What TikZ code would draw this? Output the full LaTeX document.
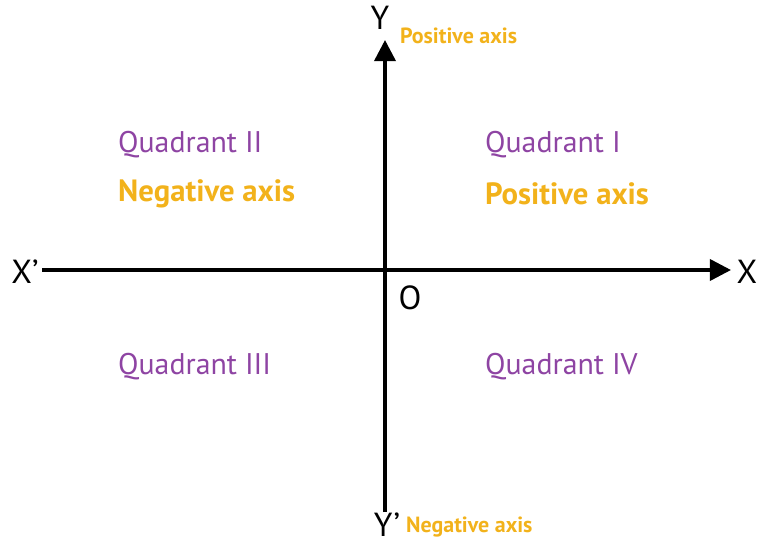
\documentclass[tikz,border=0pt]{standalone}
\usepackage{fontspec}
\setmainfont{PT Sans}
\usetikzlibrary{arrows.meta}
\definecolor{quadpurple}{HTML}{8E44A3}
\definecolor{axisgold}{HTML}{F2B21B}
\tikzset{
	axisline/.style={line width=2pt, -{Triangle[length=12pt,width=12pt]}},
	quadlabel/.style={anchor=west, text=quadpurple, font=\fontsize{17}{20}\selectfont},
	signlabel/.style={anchor=west, text=axisgold, font=\fontsize{17.5}{20}\selectfont\bfseries},
	smallsign/.style={anchor=west, text=axisgold, inner sep=1pt, font=\fontsize{12.5}{15}\selectfont\bfseries},
	axisname/.style={inner sep=1pt, font=\fontsize{19}{22}\selectfont}
}
\begin{document}
\begin{tikzpicture}[x=0.02cm, y=-0.02cm]
		\useasboundingbox (0, 0) rectangle (761, 544);
		\coordinate (L) at (42, 270);
		\coordinate (R) at (731, 270);
		\coordinate (T) at (385, 40);
		\coordinate (B) at (385, 512);
		\coordinate (O) at (385, 270);
		\node[axisname] (xneg) at (25, 272) {X’};
		\node[axisname] (xpos) at (747, 272) {X};
		\node[axisname] (ypos) at (380, 18) {Y};
		\node[axisname] (yneg) at (387, 525) {Y’};
		\node[axisname] (orig) at (410, 298) {O};
		\draw[axisline] (L) -- (R);
		\draw[axisline] (B) -- (T);
		\node[smallsign] (ytop) at (398, 36) {Positive axis};
		\node[smallsign] (ybot) at (404, 527) {Negative axis};
		\node[quadlabel] (q1) at (479, 145) {Quadrant I};
		\node[signlabel] (s1) at (479, 194) {Positive axis};
		\node[quadlabel] (q2) at (112, 145) {Quadrant II};
		\node[signlabel] (s2) at (112, 194) {Negative axis};
		\node[quadlabel] (q3) at (112, 367) {Quadrant III};
		\node[quadlabel] (q4) at (479, 367) {Quadrant IV};
	\end{tikzpicture}
\end{document}
